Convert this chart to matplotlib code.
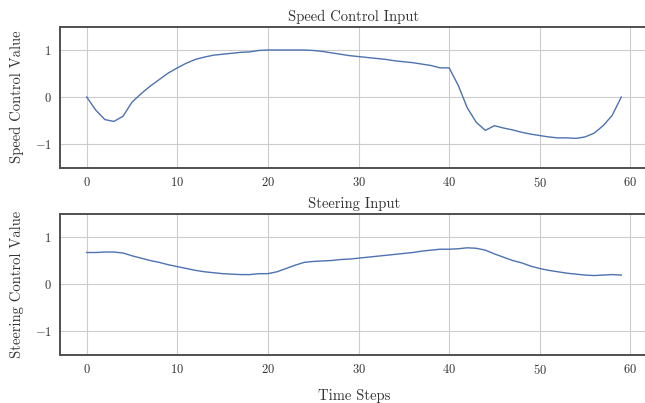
import numpy as np
import matplotlib
matplotlib.use("Agg")
import matplotlib.pyplot as plt

time_steps = list(range(60))

speed_control = [
    0.00, -0.28, -0.48, -0.52, -0.41, -0.11, 0.07, 0.23, 0.37, 0.51,
    0.62, 0.72, 0.80, 0.85, 0.89, 0.91, 0.93, 0.95, 0.96, 0.99,
    1.00, 1.00, 1.00, 1.00, 1.00, 0.99, 0.97, 0.94, 0.91, 0.88,
    0.86, 0.84, 0.82, 0.80, 0.77, 0.75, 0.73, 0.70, 0.67, 0.62,
    0.62, 0.25, -0.23, -0.54, -0.71, -0.61, -0.66, -0.70, -0.75, -0.79,
    -0.82, -0.85, -0.87, -0.87, -0.88, -0.85, -0.77, -0.61, -0.39, 0.00,
]

steering_control = [
    0.67, 0.67, 0.68, 0.68, 0.66, 0.60, 0.55, 0.50, 0.46, 0.41,
    0.37, 0.33, 0.29, 0.26, 0.24, 0.22, 0.21, 0.20, 0.20, 0.22,
    0.22, 0.26, 0.33, 0.40, 0.46, 0.48, 0.49, 0.50, 0.52, 0.53,
    0.55, 0.57, 0.59, 0.61, 0.63, 0.65, 0.67, 0.70, 0.72, 0.74,
    0.74, 0.75, 0.77, 0.76, 0.72, 0.64, 0.57, 0.50, 0.45, 0.38,
    0.33, 0.29, 0.26, 0.23, 0.21, 0.19, 0.18, 0.19, 0.20, 0.19,
]

titles = ["Speed Control Input", "Steering Input"]
ylabels = ["Speed Control Value", "Steering Control Value"]
xlabel = "Time Steps"
yticks = [-1, 0, 1]
xticks = [0, 10, 20, 30, 40, 50, 60]

plt.rcParams['font.family'] = ['cmr10']
plt.rcParams['mathtext.fontset'] = 'cm'
plt.rcParams['axes.formatter.use_mathtext'] = True
plt.rcParams['axes.unicode_minus'] = True

fig = plt.figure(figsize=(6.45, 4.03), dpi=100)
W, H = 645, 403
left, right = 60, 648
axes_px = [(26.5, 167.5), (213.5, 354.5)]
line_color = '#4C72B0'
series = [speed_control, steering_control]

for i, (top, bot) in enumerate(axes_px):
    ax = fig.add_axes([left / W, 1 - bot / H, (right - left) / W, (bot - top) / H])
    ax.plot(time_steps, series[i], color=line_color, lw=1.0)
    ax.set_ylim(-1.5, 1.5)
    ax.set_xlim(-2.95, 61.95)
    ax.set_yticks(yticks)
    ax.set_xticks(xticks)
    ax.grid(True, color='#cccccc', lw=0.8)
    ax.set_axisbelow(True)
    for s in ax.spines.values():
        s.set_color('#505050')
        s.set_linewidth(1.4)
    ax.tick_params(length=0, labelsize=9, pad=6, colors='#333333')
    ax.set_title(titles[i], fontsize=10.5, pad=4, color='#333333')
    ax.set_ylabel(ylabels[i], fontsize=10.5, color='#333333', labelpad=8)
    if i == 1:
        ax.set_xlabel(xlabel, fontsize=10.5, color='#333333', labelpad=9)

fig.savefig('out.png', dpi=100)
